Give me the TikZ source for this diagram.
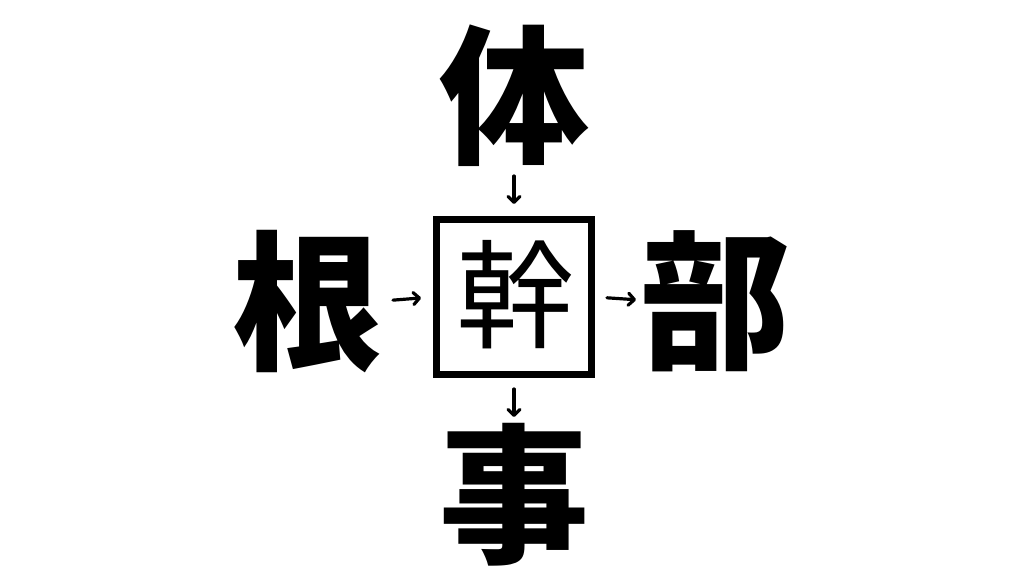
\documentclass[tikz,border=0pt]{standalone}
\usepackage{fontspec}
\newfontfamily\cjk{Noto Sans CJK JP}
\usetikzlibrary{arrows.meta}
\begin{document}
\begin{tikzpicture}[x=1pt,y=-1pt,
  big/.style={font=\cjk\bfseries\fontsize{150}{150}\selectfont, inner sep=0pt, outer sep=0pt,
    text height=132pt, text depth=18pt, anchor=center},
  mid/.style={font=\cjk\fontsize{118}{118}\selectfont, inner sep=0pt,
    text height=103.8pt, text depth=14.2pt},
  frame/.style={draw, line width=7pt, minimum size=155pt, inner sep=0pt, outer sep=3.5pt},
  arr/.style={line width=3.2pt, line cap=round, -{Straight Barb[length=6pt,width=12pt,line cap=round,line join=round]}}]
\useasboundingbox[fill=white] (0,0) rectangle (1024,576);
\node[big] (ti) at (514,95) {体};
\node[big] (ne) at (307,301) {根};
\node[big] (bu) at (715,300) {部};
\node[big] (ji) at (514,494) {事};
\node[frame] (box) at (514,297) {};
\node[mid] (kan) at (515,295) {幹};
\draw[arr, shorten <=6pt, shorten >=12pt] (ti.south) -- (box.north);
\draw[arr, shorten <=11pt, shorten >=12pt] (ne.east) -- (box.west);
\draw[arr, shorten <=12pt, shorten >=4pt] (box.east) -- (bu.west);
\draw[arr, shorten <=11pt, shorten >=2pt] (box.south) -- (ji.north);
\end{tikzpicture}
\end{document}
